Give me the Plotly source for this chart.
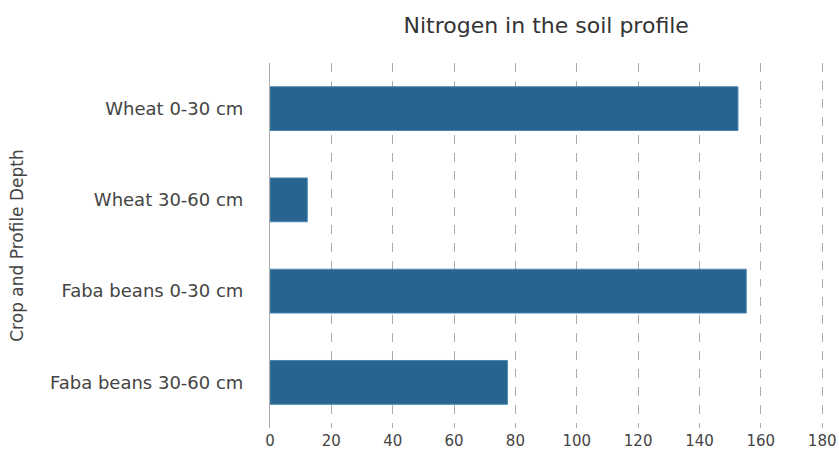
import plotly.graph_objects as go

categories = ["Wheat 0-30 cm", "Wheat 30-60 cm", "Faba beans 0-30 cm", "Faba beans 30-60 cm"]
values = [152.55, 12.15, 155.25, 77.4]
labels = ["152.55", "12.15", "155.25", "77.4"]
x_ticks = [0, 20, 40, 60, 80, 100, 120, 140, 160, 180]

fig = go.Figure(go.Bar(
    y=categories, x=values, orientation="h",
    text=labels, textposition="outside", cliponaxis=False,
    textfont=dict(color="rgba(255,255,255,0.85)", size=14),
    marker=dict(color="#27648f", line=dict(color="#4a86b0", width=1)),
    width=0.48,
))

fig.update_layout(
    width=839, height=454,
    margin=dict(l=270, r=15, t=63, b=26),
    paper_bgcolor="white", plot_bgcolor="white",
    font=dict(family="DejaVu Sans", color="#444444", size=18),
    title=dict(text="Nitrogen in the soil profile", x=0.651, xanchor="center",
               y=0.945, yanchor="middle",
               font=dict(size=22, color="#333333")),
    showlegend=False,
)
fig.update_xaxes(range=[0, 180.6], tickvals=x_ticks, showgrid=True, gridcolor="#aaaaaa",
                 griddash="dash", gridwidth=1, zeroline=False, showline=False,
                 automargin=False, ticks="", ticklabelstandoff=2,
                 tickfont=dict(size=15, color="#444444"))
fig.update_yaxes(autorange="reversed", automargin=False,
                 title=dict(text="Crop and Profile Depth", font=dict(size=17), standoff=22),
                 showline=True, linecolor="#aaaaaa", ticks="", ticklabelstandoff=22,
                 tickfont=dict(size=18, color="#444444"))

fig.write_html("out.html", config={"displayModeBar": False},
               post_script="document.body.style.margin='0';")
